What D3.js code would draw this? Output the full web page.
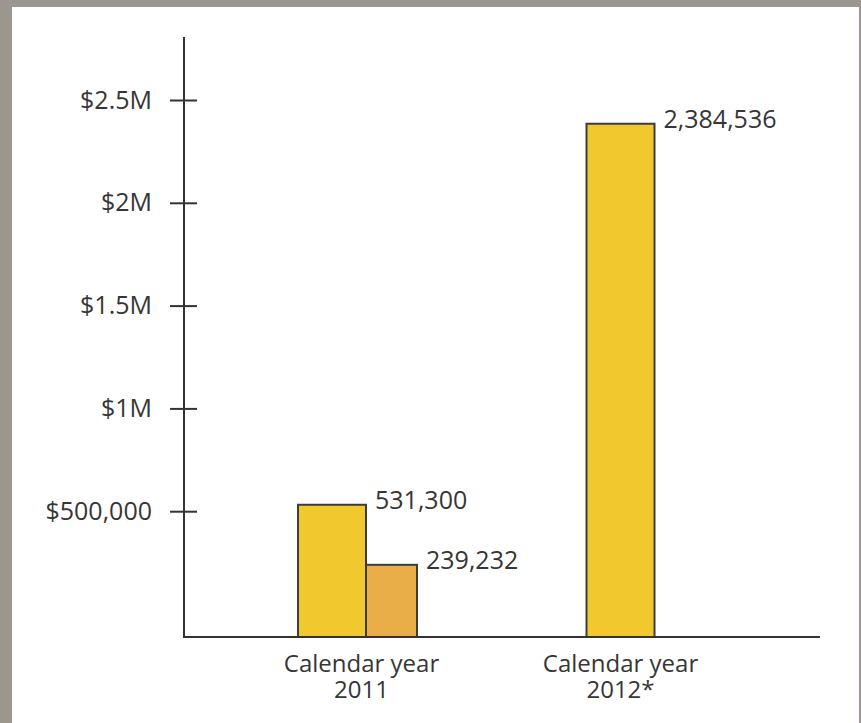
<!DOCTYPE html>
<html>
<head>
<meta charset="utf-8">
<script src="https://cdn.jsdelivr.net/npm/d3@7"></script>
<style>
  body { margin: 0; background: #fff; }
  text { font-family: "Open Sans", sans-serif; fill: #363636; }
</style>
</head>
<body>
<svg id="chart" width="861" height="723"></svg>
<script>
  // data
  var categories = ["2011", "2012"];
  var categoryLines = [["Calendar year", "2011"], ["Calendar year", "2012*"]];
  var seriesNames = ["main", "second"];
  var mainValues = [531300, 2384536];
  var secondValues = [239232, null];
  var valueLabels = [["531,300", "239,232"], ["2,384,536", null]];
  var tickValues = [500000, 1000000, 1500000, 2000000, 2500000];
  var tickLabels = ["$500,000", "$1M", "$1.5M", "$2M", "$2.5M"];

  var colors = { main: "#f2c82f", second: "#e9ae48" };
  var barWidths = { main: 68, second: 51 };

  var svg = d3.select("#chart");

  // grey frame
  svg.append("rect").attr("width", 861).attr("height", 723).attr("fill", "#9b978f");
  svg.append("rect").attr("x", 12).attr("y", 7).attr("width", 847).attr("height", 716).attr("fill", "#fff");

  var axisX = 184, axisTop = 37, plotBottom = 637, plotRight = 820;

  var y = d3.scaleLinear().domain([0, 2500000]).range([614, 100]);
  var x = d3.scaleBand().domain(categories).range([226, 752]);

  // bars
  var g = svg.append("g");
  categories.forEach(function(c, i) {
    var vals = [mainValues[i], secondValues[i]];
    var bars = [];
    var total = 0;
    seriesNames.forEach(function(s, j) {
      if (vals[j] != null) { bars.push({s: s, v: vals[j], label: valueLabels[i][j]}); total += barWidths[s]; }
    });
    var cx = x(c) + x.bandwidth() / 2;
    var left = cx - total / 2;
    bars.forEach(function(b) {
      b.x = left; b.w = barWidths[b.s]; left += b.w;
    });
    g.selectAll(null).data(bars).enter().append("rect")
      .attr("x", function(d) { return d.x; })
      .attr("y", function(d) { return y(d.v); })
      .attr("width", function(d) { return d.w; })
      .attr("height", function(d) { return plotBottom - y(d.v); })
      .attr("fill", function(d) { return colors[d.s]; })
      .attr("stroke", "#3c3c3c")
      .attr("stroke-width", 2);
    g.selectAll(null).data(bars).enter().append("text")
      .attr("x", function(d) { return d.x + d.w + 9; })
      .attr("y", function(d) { return y(d.v) + 4; })
      .attr("font-size", 25)
      .text(function(d) { return d.label; });

    var t = svg.append("text")
      .attr("text-anchor", "middle")
      .attr("font-size", 24)
      .attr("y", 672);
    t.selectAll("tspan").data(categoryLines[i]).enter().append("tspan")
      .attr("x", cx + (i ? 0 : 4))
      .attr("dy", function(d, k) { return k ? 26 : 0; })
      .text(function(d) { return d; });
  });

  // y axis
  var yAxis = d3.axisLeft(y)
    .tickValues(tickValues)
    .tickFormat(function(d, i) { return tickLabels[i]; })
    .tickSize(14)
    .tickPadding(18);
  var ag = svg.append("g").attr("transform", "translate(" + axisX + ",0)").call(yAxis);
  ag.select(".domain").remove();
  ag.selectAll(".tick line").attr("x1", 13).attr("x2", -14).attr("stroke", "#333").attr("stroke-width", 2);
  ag.selectAll(".tick text").attr("font-size", 25).attr("font-family", null).attr("fill", null);

  svg.append("line").attr("x1", axisX).attr("x2", axisX).attr("y1", axisTop).attr("y2", plotBottom)
    .attr("stroke", "#333").attr("stroke-width", 2);
  svg.append("line").attr("x1", axisX - 1).attr("x2", plotRight).attr("y1", plotBottom).attr("y2", plotBottom)
    .attr("stroke", "#333").attr("stroke-width", 2);
</script>
</body>
</html>
